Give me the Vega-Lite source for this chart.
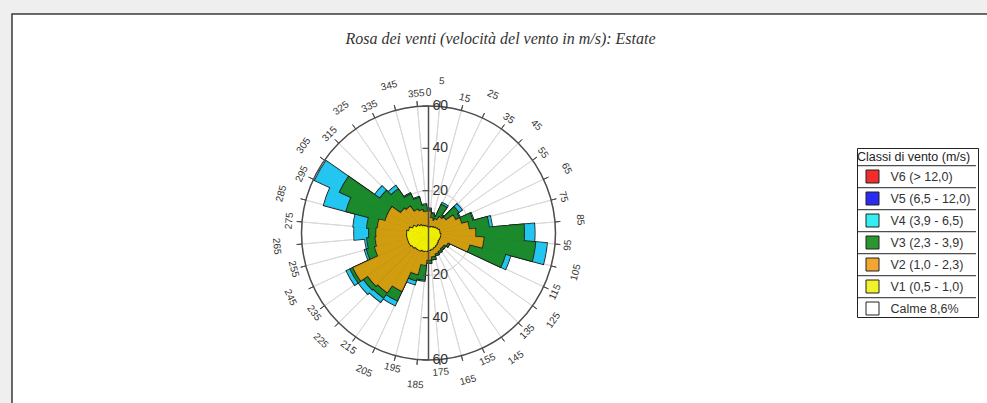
{
  "$schema": "https://vega.github.io/schema/vega-lite/v6.json",
  "width": 985,
  "height": 395,
  "autosize": {"type": "none"},
  "padding": {"left": 12, "top": 14, "right": 0, "bottom": 0},
  "background": "#efefef",
  "config": {
    "view": {"fill": "white", "stroke": "#3a3a3a", "strokeWidth": 1.5},
    "legend": {
      "padding": 0,
      "strokeColor": "#222222",
      "fillColor": "white",
      "titleFont": "Liberation Sans",
      "titleFontSize": 12.5,
      "titleFontWeight": "normal",
      "titleColor": "#222222",
      "titlePadding": 6,
      "titleLineHeight": 3,
      "labelFont": "Liberation Sans",
      "labelFontSize": 12.5,
      "labelColor": "#333333",
      "labelOffset": 11,
      "labelLimit": 200,
      "symbolType": "M-1,-1H1V1H-1Z M-2.385,-1.66H15.92",
      "symbolSize": 169,
      "symbolOffset": 8.5,
      "symbolStrokeColor": "#222222",
      "symbolStrokeWidth": 1,
      "rowPadding": 0
    }
  },
  "title": {
    "text": "Rosa dei venti (velocità del vento in m/s): Estate",
    "font": "Liberation Serif",
    "fontSize": 16,
    "fontStyle": "italic",
    "fontWeight": "normal",
    "color": "#333333",
    "anchor": "middle",
    "frame": "group",
    "offset": 0,
    "dx": -4,
    "dy": 33
  },
  "data": {"values": [
    {"dir":0,"cls":"V1 (0,5 - 1,0)","value":2.5},{"dir":0,"cls":"V2 (1,0 - 2,3)","value":7.5},{"dir":0,"cls":"V3 (2,3 - 3,9)","value":1},{"dir":0,"cls":"V4 (3,9 - 6,5)","value":0.5},
    {"dir":10,"cls":"V1 (0,5 - 1,0)","value":2.5},{"dir":10,"cls":"V2 (1,0 - 2,3)","value":4.5},{"dir":10,"cls":"V3 (2,3 - 3,9)","value":2},{"dir":10,"cls":"V4 (3,9 - 6,5)","value":0.5},
    {"dir":20,"cls":"V1 (0,5 - 1,0)","value":2.5},{"dir":20,"cls":"V2 (1,0 - 2,3)","value":3.5},{"dir":20,"cls":"V3 (2,3 - 3,9)","value":2},{"dir":20,"cls":"V4 (3,9 - 6,5)","value":0.5},
    {"dir":30,"cls":"V1 (0,5 - 1,0)","value":3},{"dir":30,"cls":"V2 (1,0 - 2,3)","value":4},{"dir":30,"cls":"V3 (2,3 - 3,9)","value":7.5},{"dir":30,"cls":"V4 (3,9 - 6,5)","value":1},
    {"dir":40,"cls":"V1 (0,5 - 1,0)","value":3},{"dir":40,"cls":"V2 (1,0 - 2,3)","value":6},{"dir":40,"cls":"V3 (2,3 - 3,9)","value":1},{"dir":40,"cls":"V4 (3,9 - 6,5)","value":0.5},
    {"dir":50,"cls":"V1 (0,5 - 1,0)","value":3.5},{"dir":50,"cls":"V2 (1,0 - 2,3)","value":6.5},{"dir":50,"cls":"V3 (2,3 - 3,9)","value":7},{"dir":50,"cls":"V4 (3,9 - 6,5)","value":2},
    {"dir":60,"cls":"V1 (0,5 - 1,0)","value":4},{"dir":60,"cls":"V2 (1,0 - 2,3)","value":10},{"dir":60,"cls":"V3 (2,3 - 3,9)","value":2},{"dir":60,"cls":"V4 (3,9 - 6,5)","value":0.5},
    {"dir":70,"cls":"V1 (0,5 - 1,0)","value":4.5},{"dir":70,"cls":"V2 (1,0 - 2,3)","value":11.5},{"dir":70,"cls":"V3 (2,3 - 3,9)","value":5.5},{"dir":70,"cls":"V4 (3,9 - 6,5)","value":0.5},
    {"dir":80,"cls":"V1 (0,5 - 1,0)","value":5},{"dir":80,"cls":"V2 (1,0 - 2,3)","value":14},{"dir":80,"cls":"V3 (2,3 - 3,9)","value":9.5},{"dir":80,"cls":"V4 (3,9 - 6,5)","value":1.5},
    {"dir":90,"cls":"V1 (0,5 - 1,0)","value":5},{"dir":90,"cls":"V2 (1,0 - 2,3)","value":17},{"dir":90,"cls":"V3 (2,3 - 3,9)","value":23},{"dir":90,"cls":"V4 (3,9 - 6,5)","value":5},
    {"dir":100,"cls":"V1 (0,5 - 1,0)","value":5.5},{"dir":100,"cls":"V2 (1,0 - 2,3)","value":20.5},{"dir":100,"cls":"V3 (2,3 - 3,9)","value":24.5},{"dir":100,"cls":"V4 (3,9 - 6,5)","value":5.5},
    {"dir":110,"cls":"V1 (0,5 - 1,0)","value":5.5},{"dir":110,"cls":"V2 (1,0 - 2,3)","value":14.5},{"dir":110,"cls":"V3 (2,3 - 3,9)","value":17.5},{"dir":110,"cls":"V4 (3,9 - 6,5)","value":2.5},
    {"dir":120,"cls":"V1 (0,5 - 1,0)","value":5.5},{"dir":120,"cls":"V2 (1,0 - 2,3)","value":4.5},{"dir":120,"cls":"V3 (2,3 - 3,9)","value":1},{"dir":120,"cls":"V4 (3,9 - 6,5)","value":0},
    {"dir":130,"cls":"V1 (0,5 - 1,0)","value":5.5},{"dir":130,"cls":"V2 (1,0 - 2,3)","value":3.5},{"dir":130,"cls":"V3 (2,3 - 3,9)","value":1},{"dir":130,"cls":"V4 (3,9 - 6,5)","value":0},
    {"dir":140,"cls":"V1 (0,5 - 1,0)","value":6},{"dir":140,"cls":"V2 (1,0 - 2,3)","value":3},{"dir":140,"cls":"V3 (2,3 - 3,9)","value":1},{"dir":140,"cls":"V4 (3,9 - 6,5)","value":0},
    {"dir":150,"cls":"V1 (0,5 - 1,0)","value":6.5},{"dir":150,"cls":"V2 (1,0 - 2,3)","value":3},{"dir":150,"cls":"V3 (2,3 - 3,9)","value":1},{"dir":150,"cls":"V4 (3,9 - 6,5)","value":0},
    {"dir":160,"cls":"V1 (0,5 - 1,0)","value":7},{"dir":160,"cls":"V2 (1,0 - 2,3)","value":3},{"dir":160,"cls":"V3 (2,3 - 3,9)","value":1},{"dir":160,"cls":"V4 (3,9 - 6,5)","value":0},
    {"dir":170,"cls":"V1 (0,5 - 1,0)","value":7.5},{"dir":170,"cls":"V2 (1,0 - 2,3)","value":3.5},{"dir":170,"cls":"V3 (2,3 - 3,9)","value":1.5},{"dir":170,"cls":"V4 (3,9 - 6,5)","value":0},
    {"dir":180,"cls":"V1 (0,5 - 1,0)","value":8},{"dir":180,"cls":"V2 (1,0 - 2,3)","value":4.5},{"dir":180,"cls":"V3 (2,3 - 3,9)","value":1.5},{"dir":180,"cls":"V4 (3,9 - 6,5)","value":0},
    {"dir":190,"cls":"V1 (0,5 - 1,0)","value":8.5},{"dir":190,"cls":"V2 (1,0 - 2,3)","value":6.5},{"dir":190,"cls":"V3 (2,3 - 3,9)","value":7},{"dir":190,"cls":"V4 (3,9 - 6,5)","value":0.5},
    {"dir":200,"cls":"V1 (0,5 - 1,0)","value":8.5},{"dir":200,"cls":"V2 (1,0 - 2,3)","value":11.5},{"dir":200,"cls":"V3 (2,3 - 3,9)","value":3},{"dir":200,"cls":"V4 (3,9 - 6,5)","value":2},
    {"dir":210,"cls":"V1 (0,5 - 1,0)","value":9},{"dir":210,"cls":"V2 (1,0 - 2,3)","value":21},{"dir":210,"cls":"V3 (2,3 - 3,9)","value":5},{"dir":210,"cls":"V4 (3,9 - 6,5)","value":2.5},
    {"dir":220,"cls":"V1 (0,5 - 1,0)","value":9},{"dir":220,"cls":"V2 (1,0 - 2,3)","value":25},{"dir":220,"cls":"V3 (2,3 - 3,9)","value":3},{"dir":220,"cls":"V4 (3,9 - 6,5)","value":2.5},
    {"dir":230,"cls":"V1 (0,5 - 1,0)","value":9.5},{"dir":230,"cls":"V2 (1,0 - 2,3)","value":25.5},{"dir":230,"cls":"V3 (2,3 - 3,9)","value":2.5},{"dir":230,"cls":"V4 (3,9 - 6,5)","value":3},
    {"dir":240,"cls":"V1 (0,5 - 1,0)","value":10},{"dir":240,"cls":"V2 (1,0 - 2,3)","value":29},{"dir":240,"cls":"V3 (2,3 - 3,9)","value":1.5},{"dir":240,"cls":"V4 (3,9 - 6,5)","value":2},
    {"dir":250,"cls":"V1 (0,5 - 1,0)","value":10},{"dir":250,"cls":"V2 (1,0 - 2,3)","value":16},{"dir":250,"cls":"V3 (2,3 - 3,9)","value":4},{"dir":250,"cls":"V4 (3,9 - 6,5)","value":1},
    {"dir":260,"cls":"V1 (0,5 - 1,0)","value":10},{"dir":260,"cls":"V2 (1,0 - 2,3)","value":15},{"dir":260,"cls":"V3 (2,3 - 3,9)","value":4},{"dir":260,"cls":"V4 (3,9 - 6,5)","value":1},
    {"dir":270,"cls":"V1 (0,5 - 1,0)","value":10},{"dir":270,"cls":"V2 (1,0 - 2,3)","value":14.5},{"dir":270,"cls":"V3 (2,3 - 3,9)","value":3.5},{"dir":270,"cls":"V4 (3,9 - 6,5)","value":7},
    {"dir":280,"cls":"V1 (0,5 - 1,0)","value":9},{"dir":280,"cls":"V2 (1,0 - 2,3)","value":15},{"dir":280,"cls":"V3 (2,3 - 3,9)","value":5},{"dir":280,"cls":"V4 (3,9 - 6,5)","value":6.5},
    {"dir":290,"cls":"V1 (0,5 - 1,0)","value":7.5},{"dir":290,"cls":"V2 (1,0 - 2,3)","value":13.5},{"dir":290,"cls":"V3 (2,3 - 3,9)","value":19},{"dir":290,"cls":"V4 (3,9 - 6,5)","value":11},
    {"dir":300,"cls":"V1 (0,5 - 1,0)","value":6},{"dir":300,"cls":"V2 (1,0 - 2,3)","value":15},{"dir":300,"cls":"V3 (2,3 - 3,9)","value":25},{"dir":300,"cls":"V4 (3,9 - 6,5)","value":13},
    {"dir":310,"cls":"V1 (0,5 - 1,0)","value":5},{"dir":310,"cls":"V2 (1,0 - 2,3)","value":11},{"dir":310,"cls":"V3 (2,3 - 3,9)","value":12},{"dir":310,"cls":"V4 (3,9 - 6,5)","value":3},
    {"dir":320,"cls":"V1 (0,5 - 1,0)","value":4},{"dir":320,"cls":"V2 (1,0 - 2,3)","value":11},{"dir":320,"cls":"V3 (2,3 - 3,9)","value":10},{"dir":320,"cls":"V4 (3,9 - 6,5)","value":2},
    {"dir":330,"cls":"V1 (0,5 - 1,0)","value":3.5},{"dir":330,"cls":"V2 (1,0 - 2,3)","value":8.5},{"dir":330,"cls":"V3 (2,3 - 3,9)","value":8},{"dir":330,"cls":"V4 (3,9 - 6,5)","value":0.5},
    {"dir":340,"cls":"V1 (0,5 - 1,0)","value":3},{"dir":340,"cls":"V2 (1,0 - 2,3)","value":8},{"dir":340,"cls":"V3 (2,3 - 3,9)","value":6},{"dir":340,"cls":"V4 (3,9 - 6,5)","value":0.5},
    {"dir":350,"cls":"V1 (0,5 - 1,0)","value":2.5},{"dir":350,"cls":"V2 (1,0 - 2,3)","value":7.5},{"dir":350,"cls":"V3 (2,3 - 3,9)","value":3},{"dir":350,"cls":"V4 (3,9 - 6,5)","value":0.5}
  ]},
  "datasets": {
    "angles": [
      {"a":5},{"a":15},{"a":25},{"a":35},{"a":45},{"a":55},{"a":65},{"a":75},{"a":85},{"a":95},{"a":105},{"a":115},
      {"a":125},{"a":135},{"a":145},{"a":155},{"a":165},{"a":175},{"a":185},{"a":195},{"a":205},{"a":215},{"a":225},{"a":235},
      {"a":245},{"a":255},{"a":265},{"a":275},{"a":285},{"a":295},{"a":305},{"a":315},{"a":325},{"a":335},{"a":345},{"a":355}
    ],
    "ax": [
      {"v":60,"t":"60"},{"v":40,"t":"40"},{"v":20,"t":"20"},{"v":-20,"t":"20"},{"v":-40,"t":"40"},{"v":-60,"t":"60"}
    ]
  },
  "layer": [
    {
      "data": {"values": [{"r": 20}, {"r": 40}]},
      "mark": {"type": "arc", "theta": 0, "theta2": 6.2832, "filled": false, "stroke": "#d9d9d9", "strokeWidth": 1},
      "encoding": {
        "x": {"datum": 0, "type": "quantitative", "scale": {"domain": [-196.77, 268.58], "nice": false, "zero": false}, "axis": null},
        "y": {"datum": 0, "type": "quantitative", "scale": {"domain": [-83.15, 103.46], "nice": false, "zero": false}, "axis": null},
        "radius": {"field": "r", "type": "quantitative", "scale": {"type": "linear", "domain": [0, 60], "range": [0, 127], "zero": true, "nice": false}}
      }
    },
    {
      "data": {"name": "angles"},
      "mark": {"type": "arc", "filled": false, "stroke": "#d9d9d9", "strokeWidth": 1},
      "encoding": {
        "x": {"datum": 0, "type": "quantitative", "scale": {"domain": [-196.77, 268.58], "nice": false, "zero": false}, "axis": null},
        "y": {"datum": 0, "type": "quantitative", "scale": {"domain": [-83.15, 103.46], "nice": false, "zero": false}, "axis": null},
        "theta": {"field": "a", "type": "quantitative", "stack": null, "scale": {"type": "linear", "domain": [0, 360], "range": [0, 6.283185], "zero": false, "nice": false}},
        "theta2": {"field": "a"},
        "radius": {"datum": 60, "type": "quantitative", "scale": {"type": "linear", "domain": [0, 60], "range": [0, 127], "zero": true, "nice": false}}
      }
    },
    {
      "data": {"values": [{"r": 60}]},
      "mark": {"type": "arc", "theta": 0, "theta2": 6.2832, "filled": false, "stroke": "#4d4d4d", "strokeWidth": 1.5},
      "encoding": {
        "x": {"datum": 0, "type": "quantitative", "scale": {"domain": [-196.77, 268.58], "nice": false, "zero": false}, "axis": null},
        "y": {"datum": 0, "type": "quantitative", "scale": {"domain": [-83.15, 103.46], "nice": false, "zero": false}, "axis": null},
        "radius": {"field": "r", "type": "quantitative", "scale": {"type": "linear", "domain": [0, 60], "range": [0, 127], "zero": true, "nice": false}}
      }
    },
    {
      "data": {"name": "angles"},
      "mark": {"type": "arc", "filled": false, "stroke": "#4d4d4d", "strokeWidth": 1},
      "encoding": {
        "x": {"datum": 0, "type": "quantitative", "scale": {"domain": [-196.77, 268.58], "nice": false, "zero": false}, "axis": null},
        "y": {"datum": 0, "type": "quantitative", "scale": {"domain": [-83.15, 103.46], "nice": false, "zero": false}, "axis": null},
        "theta": {"field": "a", "type": "quantitative", "stack": null, "scale": {"type": "linear", "domain": [0, 360], "range": [0, 6.283185], "zero": false, "nice": false}},
        "theta2": {"field": "a"},
        "radius": {"datum": 62.5, "type": "quantitative", "scale": {"type": "linear", "domain": [0, 60], "range": [0, 127], "zero": true, "nice": false}},
        "radius2": {"datum": 60}
      }
    },
    {
      "transform": [{"stack": "value", "groupby": ["dir"], "sort": [{"field": "cls", "order": "ascending"}], "as": ["r0", "r1"]}, {"filter": {"field": "cls", "equal": "V4 (3,9 - 6,5)"}}],
      "mark": {"type": "arc", "stroke": "#1a1a1a", "strokeWidth": 2.4},
      "encoding": {
        "x": {"datum": 0, "type": "quantitative", "scale": {"domain": [-196.77, 268.58], "nice": false, "zero": false}, "axis": null},
        "y": {"datum": 0, "type": "quantitative", "scale": {"domain": [-83.15, 103.46], "nice": false, "zero": false}, "axis": null},
        "theta": {"field": "dir", "type": "ordinal", "scale": {"type": "band", "domain": [0,10,20,30,40,50,60,70,80,90,100,110,120,130,140,150,160,170,180,190,200,210,220,230,240,250,260,270,280,290,300,310,320,330,340,350], "range": [-0.0872665, 6.1959188], "paddingInner": 0, "paddingOuter": 0}},
        "radius": {"field": "r1", "type": "quantitative", "scale": {"type": "linear", "domain": [0, 60], "range": [0, 127], "zero": true, "nice": false}},
        "fill": {"field": "cls", "type": "nominal",
          "scale": {"domain": ["V6 (> 12,0)", "V5 (6,5 - 12,0)", "V4 (3,9 - 6,5)", "V3 (2,3 - 3,9)", "V2 (1,0 - 2,3)", "V1 (0,5 - 1,0)", "Calme 8,6%"], "range": ["#f22b2b", "#2b2bf2", "#33eef2", "#2a962e", "#f2a630", "#f2f22a", "#ffffff"]},
          "legend": {"title": ["", "Classi di vento (m/s)"], "orient": "none", "legendX": 845, "legendY": 134}}
      }
    },
    {
      "transform": [{"stack": "value", "groupby": ["dir"], "sort": [{"field": "cls", "order": "ascending"}], "as": ["r0", "r1"]}, {"filter": {"field": "cls", "equal": "V4 (3,9 - 6,5)"}}],
      "mark": {"type": "arc", "fill": "#23c6ef", "stroke": "#23c6ef", "strokeWidth": 0.8},
      "encoding": {
        "x": {"datum": 0, "type": "quantitative", "scale": {"domain": [-196.77, 268.58], "nice": false, "zero": false}, "axis": null},
        "y": {"datum": 0, "type": "quantitative", "scale": {"domain": [-83.15, 103.46], "nice": false, "zero": false}, "axis": null},
        "theta": {"field": "dir", "type": "ordinal", "scale": {"type": "band", "domain": [0,10,20,30,40,50,60,70,80,90,100,110,120,130,140,150,160,170,180,190,200,210,220,230,240,250,260,270,280,290,300,310,320,330,340,350], "range": [-0.0872665, 6.1959188], "paddingInner": 0, "paddingOuter": 0}},
        "radius": {"field": "r1", "type": "quantitative", "scale": {"type": "linear", "domain": [0, 60], "range": [0, 127], "zero": true, "nice": false}}
      }
    },
    {
      "transform": [{"stack": "value", "groupby": ["dir"], "sort": [{"field": "cls", "order": "ascending"}], "as": ["r0", "r1"]}, {"filter": {"field": "cls", "equal": "V3 (2,3 - 3,9)"}}],
      "mark": {"type": "arc", "stroke": "#1a1a1a", "strokeWidth": 2.4},
      "encoding": {
        "x": {"datum": 0, "type": "quantitative", "scale": {"domain": [-196.77, 268.58], "nice": false, "zero": false}, "axis": null},
        "y": {"datum": 0, "type": "quantitative", "scale": {"domain": [-83.15, 103.46], "nice": false, "zero": false}, "axis": null},
        "theta": {"field": "dir", "type": "ordinal", "scale": {"type": "band", "domain": [0,10,20,30,40,50,60,70,80,90,100,110,120,130,140,150,160,170,180,190,200,210,220,230,240,250,260,270,280,290,300,310,320,330,340,350], "range": [-0.0872665, 6.1959188], "paddingInner": 0, "paddingOuter": 0}},
        "radius": {"field": "r1", "type": "quantitative", "scale": {"type": "linear", "domain": [0, 60], "range": [0, 127], "zero": true, "nice": false}},
        "fill": {"field": "cls", "type": "nominal",
          "scale": {"domain": ["V6 (> 12,0)", "V5 (6,5 - 12,0)", "V4 (3,9 - 6,5)", "V3 (2,3 - 3,9)", "V2 (1,0 - 2,3)", "V1 (0,5 - 1,0)", "Calme 8,6%"], "range": ["#f22b2b", "#2b2bf2", "#33eef2", "#2a962e", "#f2a630", "#f2f22a", "#ffffff"]},
          "legend": {"title": ["", "Classi di vento (m/s)"], "orient": "none", "legendX": 845, "legendY": 134}}
      }
    },
    {
      "transform": [{"stack": "value", "groupby": ["dir"], "sort": [{"field": "cls", "order": "ascending"}], "as": ["r0", "r1"]}, {"filter": {"field": "cls", "equal": "V3 (2,3 - 3,9)"}}],
      "mark": {"type": "arc", "fill": "#1b8a2c", "stroke": "#1b8a2c", "strokeWidth": 0.8},
      "encoding": {
        "x": {"datum": 0, "type": "quantitative", "scale": {"domain": [-196.77, 268.58], "nice": false, "zero": false}, "axis": null},
        "y": {"datum": 0, "type": "quantitative", "scale": {"domain": [-83.15, 103.46], "nice": false, "zero": false}, "axis": null},
        "theta": {"field": "dir", "type": "ordinal", "scale": {"type": "band", "domain": [0,10,20,30,40,50,60,70,80,90,100,110,120,130,140,150,160,170,180,190,200,210,220,230,240,250,260,270,280,290,300,310,320,330,340,350], "range": [-0.0872665, 6.1959188], "paddingInner": 0, "paddingOuter": 0}},
        "radius": {"field": "r1", "type": "quantitative", "scale": {"type": "linear", "domain": [0, 60], "range": [0, 127], "zero": true, "nice": false}}
      }
    },
    {
      "transform": [{"stack": "value", "groupby": ["dir"], "sort": [{"field": "cls", "order": "ascending"}], "as": ["r0", "r1"]}, {"filter": {"field": "cls", "equal": "V2 (1,0 - 2,3)"}}],
      "mark": {"type": "arc", "stroke": "#1a1a1a", "strokeWidth": 2.4},
      "encoding": {
        "x": {"datum": 0, "type": "quantitative", "scale": {"domain": [-196.77, 268.58], "nice": false, "zero": false}, "axis": null},
        "y": {"datum": 0, "type": "quantitative", "scale": {"domain": [-83.15, 103.46], "nice": false, "zero": false}, "axis": null},
        "theta": {"field": "dir", "type": "ordinal", "scale": {"type": "band", "domain": [0,10,20,30,40,50,60,70,80,90,100,110,120,130,140,150,160,170,180,190,200,210,220,230,240,250,260,270,280,290,300,310,320,330,340,350], "range": [-0.0872665, 6.1959188], "paddingInner": 0, "paddingOuter": 0}},
        "radius": {"field": "r1", "type": "quantitative", "scale": {"type": "linear", "domain": [0, 60], "range": [0, 127], "zero": true, "nice": false}},
        "fill": {"field": "cls", "type": "nominal",
          "scale": {"domain": ["V6 (> 12,0)", "V5 (6,5 - 12,0)", "V4 (3,9 - 6,5)", "V3 (2,3 - 3,9)", "V2 (1,0 - 2,3)", "V1 (0,5 - 1,0)", "Calme 8,6%"], "range": ["#f22b2b", "#2b2bf2", "#33eef2", "#2a962e", "#f2a630", "#f2f22a", "#ffffff"]},
          "legend": {"title": ["", "Classi di vento (m/s)"], "orient": "none", "legendX": 845, "legendY": 134}}
      }
    },
    {
      "transform": [{"stack": "value", "groupby": ["dir"], "sort": [{"field": "cls", "order": "ascending"}], "as": ["r0", "r1"]}, {"filter": {"field": "cls", "equal": "V2 (1,0 - 2,3)"}}],
      "mark": {"type": "arc", "fill": "#d09c10", "stroke": "#d09c10", "strokeWidth": 0.8},
      "encoding": {
        "x": {"datum": 0, "type": "quantitative", "scale": {"domain": [-196.77, 268.58], "nice": false, "zero": false}, "axis": null},
        "y": {"datum": 0, "type": "quantitative", "scale": {"domain": [-83.15, 103.46], "nice": false, "zero": false}, "axis": null},
        "theta": {"field": "dir", "type": "ordinal", "scale": {"type": "band", "domain": [0,10,20,30,40,50,60,70,80,90,100,110,120,130,140,150,160,170,180,190,200,210,220,230,240,250,260,270,280,290,300,310,320,330,340,350], "range": [-0.0872665, 6.1959188], "paddingInner": 0, "paddingOuter": 0}},
        "radius": {"field": "r1", "type": "quantitative", "scale": {"type": "linear", "domain": [0, 60], "range": [0, 127], "zero": true, "nice": false}}
      }
    },
    {
      "transform": [{"stack": "value", "groupby": ["dir"], "sort": [{"field": "cls", "order": "ascending"}], "as": ["r0", "r1"]}, {"filter": {"field": "cls", "equal": "V1 (0,5 - 1,0)"}}],
      "mark": {"type": "arc", "stroke": "#1a1a1a", "strokeWidth": 2.4},
      "encoding": {
        "x": {"datum": 0, "type": "quantitative", "scale": {"domain": [-196.77, 268.58], "nice": false, "zero": false}, "axis": null},
        "y": {"datum": 0, "type": "quantitative", "scale": {"domain": [-83.15, 103.46], "nice": false, "zero": false}, "axis": null},
        "theta": {"field": "dir", "type": "ordinal", "scale": {"type": "band", "domain": [0,10,20,30,40,50,60,70,80,90,100,110,120,130,140,150,160,170,180,190,200,210,220,230,240,250,260,270,280,290,300,310,320,330,340,350], "range": [-0.0872665, 6.1959188], "paddingInner": 0, "paddingOuter": 0}},
        "radius": {"field": "r1", "type": "quantitative", "scale": {"type": "linear", "domain": [0, 60], "range": [0, 127], "zero": true, "nice": false}},
        "fill": {"field": "cls", "type": "nominal",
          "scale": {"domain": ["V6 (> 12,0)", "V5 (6,5 - 12,0)", "V4 (3,9 - 6,5)", "V3 (2,3 - 3,9)", "V2 (1,0 - 2,3)", "V1 (0,5 - 1,0)", "Calme 8,6%"], "range": ["#f22b2b", "#2b2bf2", "#33eef2", "#2a962e", "#f2a630", "#f2f22a", "#ffffff"]},
          "legend": {"title": ["", "Classi di vento (m/s)"], "orient": "none", "legendX": 845, "legendY": 134}}
      }
    },
    {
      "transform": [{"stack": "value", "groupby": ["dir"], "sort": [{"field": "cls", "order": "ascending"}], "as": ["r0", "r1"]}, {"filter": {"field": "cls", "equal": "V1 (0,5 - 1,0)"}}],
      "mark": {"type": "arc", "fill": "#f2f000", "stroke": "#f2f000", "strokeWidth": 0.8},
      "encoding": {
        "x": {"datum": 0, "type": "quantitative", "scale": {"domain": [-196.77, 268.58], "nice": false, "zero": false}, "axis": null},
        "y": {"datum": 0, "type": "quantitative", "scale": {"domain": [-83.15, 103.46], "nice": false, "zero": false}, "axis": null},
        "theta": {"field": "dir", "type": "ordinal", "scale": {"type": "band", "domain": [0,10,20,30,40,50,60,70,80,90,100,110,120,130,140,150,160,170,180,190,200,210,220,230,240,250,260,270,280,290,300,310,320,330,340,350], "range": [-0.0872665, 6.1959188], "paddingInner": 0, "paddingOuter": 0}},
        "radius": {"field": "r1", "type": "quantitative", "scale": {"type": "linear", "domain": [0, 60], "range": [0, 127], "zero": true, "nice": false}}
      }
    },
    {
      "data": {"values": [{}]},
      "mark": {"type": "rule", "stroke": "#4d4d4d", "strokeWidth": 1.5},
      "encoding": {
        "x": {"datum": 0, "type": "quantitative", "scale": {"domain": [-196.77, 268.58], "nice": false, "zero": false}, "axis": null},
        "y": {"datum": -60, "type": "quantitative", "scale": {"domain": [-83.15, 103.46], "nice": false, "zero": false}, "axis": null},
        "y2": {"datum": 60}
      }
    },
    {
      "data": {"name": "ax"},
      "mark": {"type": "rule", "stroke": "#4d4d4d", "strokeWidth": 1.2},
      "encoding": {
        "x": {"datum": -2.8, "type": "quantitative", "scale": {"domain": [-196.77, 268.58], "nice": false, "zero": false}, "axis": null},
        "x2": {"datum": 0},
        "y": {"field": "v", "type": "quantitative", "scale": {"domain": [-83.15, 103.46], "nice": false, "zero": false}, "axis": null}
      }
    },
    {
      "data": {"name": "ax"},
      "mark": {"type": "text", "align": "left", "baseline": "middle", "dx": 4, "font": "Liberation Sans", "fontSize": 14, "color": "#333333"},
      "encoding": {
        "x": {"datum": 0, "type": "quantitative", "scale": {"domain": [-196.77, 268.58], "nice": false, "zero": false}, "axis": null},
        "y": {"field": "v", "type": "quantitative", "scale": {"domain": [-83.15, 103.46], "nice": false, "zero": false}, "axis": null},
        "text": {"field": "t"}
      }
    },
    {
      "data": {"name": "angles"},
      "transform": [{"filter": "datum.a % 20 == 5 && (datum.a < 90 || datum.a > 270)"}],
      "mark": {"type": "text", "align": "center", "baseline": "middle", "font": "Liberation Sans", "fontSize": 10, "color": "#333333"},
      "encoding": {
        "x": {"datum": 0, "type": "quantitative", "scale": {"domain": [-196.77, 268.58], "nice": false, "zero": false}, "axis": null},
        "y": {"datum": 0, "type": "quantitative", "scale": {"domain": [-83.15, 103.46], "nice": false, "zero": false}, "axis": null},
        "theta": {"field": "a", "type": "quantitative", "stack": null, "scale": {"type": "linear", "domain": [0, 360], "range": [0, 6.283185], "zero": false, "nice": false}},
        "radius": {"datum": 72, "type": "quantitative", "scale": {"type": "linear", "domain": [0, 60], "range": [0, 127], "zero": true, "nice": false}},
        "angle": {"field": "a", "type": "quantitative", "scale": {"domain": [0, 360], "range": [0, 360], "zero": false, "nice": false}, "legend": null},
        "text": {"field": "a"}
      }
    },
    {
      "data": {"name": "angles"},
      "transform": [{"filter": "datum.a % 20 == 5 && datum.a > 90 && datum.a < 270"}],
      "mark": {"type": "text", "align": "center", "baseline": "middle", "font": "Liberation Sans", "fontSize": 10, "color": "#333333"},
      "encoding": {
        "x": {"datum": 0, "type": "quantitative", "scale": {"domain": [-196.77, 268.58], "nice": false, "zero": false}, "axis": null},
        "y": {"datum": 0, "type": "quantitative", "scale": {"domain": [-83.15, 103.46], "nice": false, "zero": false}, "axis": null},
        "theta": {"field": "a", "type": "quantitative", "stack": null, "scale": {"type": "linear", "domain": [0, 360], "range": [0, 6.283185], "zero": false, "nice": false}},
        "radius": {"datum": 72, "type": "quantitative", "scale": {"type": "linear", "domain": [0, 60], "range": [0, 127], "zero": true, "nice": false}},
        "angle": {"field": "a", "type": "quantitative", "scale": {"domain": [90, 270], "range": [-90, 90], "zero": false, "nice": false}, "legend": null},
        "text": {"field": "a"}
      }
    },
    {
      "data": {"name": "angles"},
      "transform": [{"filter": "datum.a % 20 == 15 && (datum.a < 90 || datum.a > 270)"}],
      "mark": {"type": "text", "align": "center", "baseline": "middle", "font": "Liberation Sans", "fontSize": 10, "color": "#333333"},
      "encoding": {
        "x": {"datum": 0, "type": "quantitative", "scale": {"domain": [-196.77, 268.58], "nice": false, "zero": false}, "axis": null},
        "y": {"datum": 0, "type": "quantitative", "scale": {"domain": [-83.15, 103.46], "nice": false, "zero": false}, "axis": null},
        "theta": {"field": "a", "type": "quantitative", "stack": null, "scale": {"type": "linear", "domain": [0, 360], "range": [0, 6.283185], "zero": false, "nice": false}},
        "radius": {"datum": 66, "type": "quantitative", "scale": {"type": "linear", "domain": [0, 60], "range": [0, 127], "zero": true, "nice": false}},
        "angle": {"field": "a", "type": "quantitative", "scale": {"domain": [0, 360], "range": [0, 360], "zero": false, "nice": false}, "legend": null},
        "text": {"field": "a"}
      }
    },
    {
      "data": {"name": "angles"},
      "transform": [{"filter": "datum.a % 20 == 15 && datum.a > 90 && datum.a < 270"}],
      "mark": {"type": "text", "align": "center", "baseline": "middle", "font": "Liberation Sans", "fontSize": 10, "color": "#333333"},
      "encoding": {
        "x": {"datum": 0, "type": "quantitative", "scale": {"domain": [-196.77, 268.58], "nice": false, "zero": false}, "axis": null},
        "y": {"datum": 0, "type": "quantitative", "scale": {"domain": [-83.15, 103.46], "nice": false, "zero": false}, "axis": null},
        "theta": {"field": "a", "type": "quantitative", "stack": null, "scale": {"type": "linear", "domain": [0, 360], "range": [0, 6.283185], "zero": false, "nice": false}},
        "radius": {"datum": 66, "type": "quantitative", "scale": {"type": "linear", "domain": [0, 60], "range": [0, 127], "zero": true, "nice": false}},
        "angle": {"field": "a", "type": "quantitative", "scale": {"domain": [90, 270], "range": [-90, 90], "zero": false, "nice": false}, "legend": null},
        "text": {"field": "a"}
      }
    },
    {
      "data": {"values": [{"t": "0"}]},
      "mark": {"type": "text", "align": "center", "baseline": "middle", "font": "Liberation Sans", "fontSize": 10, "color": "#333333"},
      "encoding": {
        "x": {"datum": 0, "type": "quantitative", "scale": {"domain": [-196.77, 268.58], "nice": false, "zero": false}, "axis": null},
        "y": {"datum": 0, "type": "quantitative", "scale": {"domain": [-83.15, 103.46], "nice": false, "zero": false}, "axis": null},
        "theta": {"datum": 0, "type": "quantitative", "scale": {"type": "linear", "domain": [0, 360], "range": [0, 6.283185], "zero": false, "nice": false}},
        "radius": {"datum": 66, "type": "quantitative", "scale": {"type": "linear", "domain": [0, 60], "range": [0, 127], "zero": true, "nice": false}},
        "text": {"field": "t"}
      }
    }
  ],
  "resolve": {"scale": {"theta": "independent", "angle": "independent"}}
}
